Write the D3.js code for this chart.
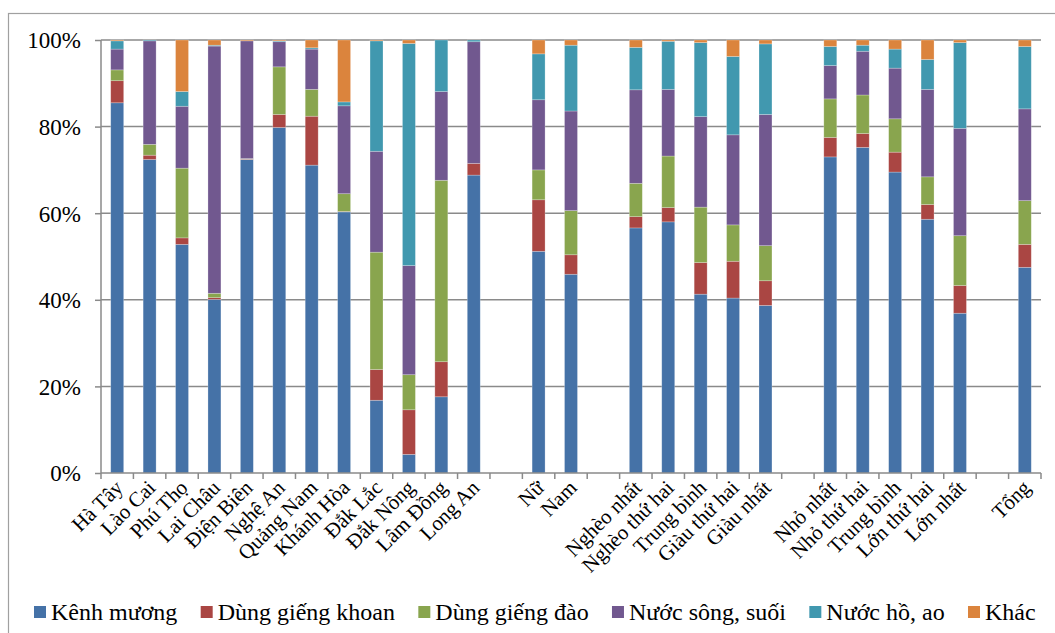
<!DOCTYPE html>
<html>
<head>
<meta charset="utf-8">
<script src="https://cdn.jsdelivr.net/npm/d3@7/dist/d3.min.js"></script>
<style>
  body { margin: 0; background: #fff; }
  svg text { font-family: "Liberation Serif", "Times New Roman", "DejaVu Serif", serif; fill: #000; }
</style>
</head>
<body>
<svg id="chart" width="1055" height="633"></svg>
<script>
// gaps between groups are empty categories ("_n")
const categories = ["Hà Tây","Lào Cai","Phú Thọ","Lai Châu","Điện Biên","Nghệ An","Quảng Nam","Khánh Hòa","Đắk Lắc","Đắk Nông","Lâm Đồng","Long An",
  "_1","Nữ","Nam","_2","Nghèo nhất","Nghèo thứ hai","Trung bình","Giàu thứ hai","Giàu nhất",
  "_3","Nhỏ nhất","Nhỏ thứ hai","Trung bình ","Lớn thứ hai","Lớn nhất","_4","Tổng"];

const seriesNames = ["Kênh mương","Dùng giếng khoan","Dùng giếng đào","Nước sông, suối","Nước hồ, ao","Khác"];
const colors = ["#4572A7","#AA4643","#89A54E","#71588F","#4198AF","#DB843D"];

const kenhMuong   = [85.5,72.4,52.8,40.1,72.4,79.8,71.1,60.3,16.8,4.3,17.6,68.8, null, 51.2,45.9, null, 56.6,58.0,41.3,40.4,38.7, null, 73.0,75.2,69.5,58.6,36.9, null, 47.5];
const giengKhoan  = [5.1,1.0,1.5,0.4,0.1,3.0,11.3,0.1,7.1,10.3,8.1,2.7, null, 11.9,4.5, null, 2.6,3.3,7.3,8.5,5.7, null, 4.5,3.2,4.6,3.4,6.4, null, 5.3];
const giengDao    = [2.5,2.5,16.1,1.0,0.1,11.0,6.2,4.1,27.1,8.1,41.9,0, null, 6.9,10.2, null, 7.7,11.9,12.8,8.4,8.1, null, 8.9,8.9,7.7,6.4,11.5, null, 10.1];
const songSuoi    = [4.8,23.9,14.3,57.1,27.2,5.8,9.3,20.3,23.3,25.2,20.5,28.1, null, 16.2,23.0, null, 21.6,15.4,20.9,20.8,30.3, null, 7.7,10.1,11.7,20.2,24.8, null, 21.2];
const hoAo        = [1.9,0.2,3.4,0.2,0,0.2,0.3,0.9,25.5,51.3,11.9,0.4, null, 10.6,15.2, null, 9.8,11.1,17.1,18.1,16.3, null, 4.4,1.4,4.4,6.9,19.8, null, 14.4];
const khac        = [0.2,0,11.9,1.2,0.2,0.2,1.8,14.3,0.2,0.8,0,0, null, 3.2,1.2, null, 1.7,0.3,0.6,3.8,0.9, null, 1.5,1.2,2.1,4.5,0.6, null, 1.5];

const yTicks = [0,20,40,60,80,100];

const allSeries = [kenhMuong, giengKhoan, giengDao, songSuoi, hoAo, khac];
const rows = categories.map((c, i) => {
  const r = {cat: c};
  seriesNames.forEach((s, j) => r[s] = allSeries[j][i] || 0);
  return r;
});

const serif = "'Liberation Serif', 'Times New Roman', 'DejaVu Serif', serif";
const svg = d3.select("#chart").attr("font-family", serif);
const plotL = 101, plotR = 1041, plotT = 40, plotB = 473;

// outer chart frame (right and bottom edges fall outside the picture)
svg.append("rect")
  .attr("x", 8.5).attr("y", 13.5).attr("width", 1100).attr("height", 700)
  .attr("fill", "none").attr("stroke", "#a0a0a0").attr("stroke-width", 1.2);

const x = d3.scaleBand(categories, [plotL, plotR]).paddingInner(0.6).paddingOuter(0.3);
const y = d3.scaleLinear([0, 100], [plotB, plotT]);

// gridlines
svg.append("g")
  .selectAll("line")
  .data(yTicks.filter(d => d > 0))
  .enter()
  .append("line")
  .attr("x1", plotL).attr("x2", plotR)
  .attr("y1", d => y(d)).attr("y2", d => y(d))
  .attr("stroke", "#8a8a8a").attr("stroke-width", 1.5);

const stack = d3.stack().keys(seriesNames)(rows);

svg.append("g")
  .selectAll("g")
  .data(stack)
  .enter()
  .append("g")
  .attr("fill", (d, i) => colors[i])
  .selectAll("rect")
  .data(d => d.filter(p => p[1] - p[0] > 0))
  .enter()
  .append("rect")
  .attr("x", d => x(d.data.cat))
  .attr("width", x.bandwidth())
  .attr("y", d => y(d[1]))
  .attr("height", d => y(d[0]) - y(d[1]))
  .attr("stroke", "rgba(255,255,255,0.35)")
  .attr("stroke-width", 0.7);

// y axis
const yAxis = svg.append("g")
  .attr("transform", "translate(" + plotL + ",0)")
  .call(d3.axisLeft(y).tickValues(yTicks).tickFormat(d => d + "%").tickSize(6).tickPadding(14))
  .attr("font-family", serif);
yAxis.selectAll("line, path").attr("stroke", "#8a8a8a").attr("stroke-width", 1.5);
yAxis.select(".domain").attr("d", "M0," + plotT + "V" + plotB);
yAxis.selectAll("text").attr("font-size", 23).attr("font-family", serif).attr("dy", "0.34em");

// x axis: ticks between categories
const xAxis = svg.append("g")
  .attr("transform", "translate(0," + plotB + ")");
xAxis.append("line")
  .attr("x1", plotL).attr("x2", plotR)
  .attr("stroke", "#8a8a8a").attr("stroke-width", 1.5);
const bounds = categories.map(c => x(c) - x.step() * x.paddingInner() / 2).concat([plotR]);
xAxis.selectAll(".tk")
  .data(bounds)
  .enter()
  .append("line")
  .attr("x1", d => d).attr("x2", d => d)
  .attr("y1", 0).attr("y2", 6)
  .attr("stroke", "#8a8a8a").attr("stroke-width", 1.5);
xAxis.selectAll(".lab")
  .data(categories.filter(c => !c.startsWith("_")))
  .enter()
  .append("text")
  .attr("text-anchor", "end")
  .attr("font-size", 21)
  .attr("font-family", serif)
  .attr("transform", d => "translate(" + (x(d) + x.bandwidth() / 2 + 7) + ",16) rotate(-45)")
  .text(d => d.trim());

// legend
const legend = svg.append("g").attr("transform", "translate(0,612)");
const items = legend.selectAll("g")
  .data(seriesNames)
  .enter()
  .append("g");
items.append("rect")
  .attr("y", -6).attr("width", 12).attr("height", 12)
  .attr("fill", (d, i) => colors[i]);
items.append("text")
  .attr("x", 17).attr("y", 8)
  .attr("font-size", 24)
  .attr("font-family", serif)
  .text(d => d);
const widths = [];
items.selectAll("text").each(function() { widths.push(this.getComputedTextLength()); });
const startX = 34, lastX = 968;
const total = widths.slice(0, -1).reduce((a, b) => a + b + 17, 0);
const gap = (lastX - startX - total) / (seriesNames.length - 1);
let cx = startX;
items.attr("transform", (d, i) => {
  const t = "translate(" + cx + ",0)";
  cx += 17 + widths[i] + gap;
  return t;
});
</script>
</body>
</html>
